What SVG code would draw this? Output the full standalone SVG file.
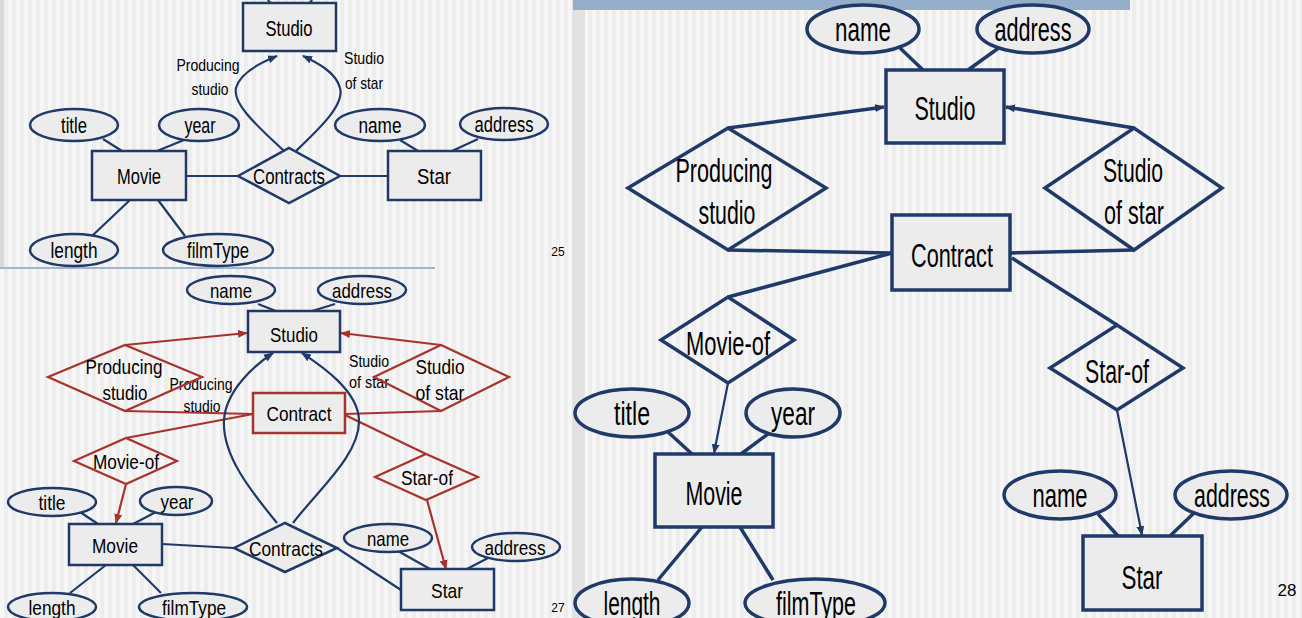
<svg xmlns="http://www.w3.org/2000/svg" width="1302" height="618" viewBox="0 0 1302 618">
<defs>
<pattern id="stripes" width="8" height="10" patternUnits="userSpaceOnUse">
<rect width="8" height="10" fill="#ededed"/>
<rect width="4" height="10" fill="#f6f6f6"/>
</pattern>
<marker id="ab" markerUnits="userSpaceOnUse" markerWidth="10" markerHeight="8" refX="9" refY="4" orient="auto"><path d="M0,0 L10,4 L0,8 z" fill="#1f3a68"/></marker>
<marker id="ar" markerUnits="userSpaceOnUse" markerWidth="10" markerHeight="8" refX="9" refY="4" orient="auto"><path d="M0,0 L10,4 L0,8 z" fill="#a8322c"/></marker>
<style>
.b{fill:none;stroke:#1f3a68;stroke-width:2.2}
.r{fill:none;stroke:#a8322c;stroke-width:2.2}
.bf{fill:#ececec;stroke:#1f3a68;stroke-width:2.5}
.rf{fill:#ececec;stroke:#a8322c;stroke-width:2.5}
.bf3{fill:#ececec;stroke:#1f3a68;stroke-width:3.5}
.b3{fill:none;stroke:#1f3a68;stroke-width:3.5}
.t{font-family:"Liberation Sans Narrow","Liberation Sans",Arial,sans-serif;fill:#000;text-anchor:middle}
.s20{font-size:22px}.s19{font-size:21px}.s16{font-size:17px}.s15{font-size:16px}.s30{font-size:34px}.s12{font-size:12px}
</style>
</defs>
<rect width="1302" height="618" fill="url(#stripes)"/>
<rect x="0" y="0" width="4" height="268" fill="#d9d9d9"/>
<rect x="572" y="0" width="13" height="618" fill="#e2e2e2"/>
<line x1="0" y1="268" x2="435" y2="268" stroke="#a3b5cc" stroke-width="2"/>
<rect x="573" y="0" width="557" height="10" fill="#95aecb"/>
<path class="b" d="M268,0 Q270,4 276,4 L304,4 Q310,4 312,0"/>

<!-- ===== Slide 25 ===== -->
<g id="s1-connectors">
<line class="b" x1="103" y1="139" x2="122" y2="151"/>
<line class="b" x1="184" y1="140" x2="157" y2="151"/>
<line class="b" x1="186" y1="176" x2="238" y2="176"/>
<line class="b" x1="340" y1="176" x2="388" y2="176"/>
<line class="b" x1="400" y1="140" x2="418" y2="151"/>
<line class="b" x1="478" y1="139" x2="452" y2="151"/>
<line class="b" x1="130" y1="200" x2="92" y2="236"/>
<line class="b" x1="158" y1="200" x2="185" y2="236"/>
<path class="b" d="M284,151 C262,130 232,105 236,88 C240,72 262,62 277,56" marker-end="url(#ab)"/>
<path class="b" d="M296,151 C318,130 345,105 340,88 C336,72 316,62 303,56" marker-end="url(#ab)"/>
<text class="t s16" x="208" y="71" textLength="63" lengthAdjust="spacingAndGlyphs">Producing</text>
<text class="t s16" x="210" y="95" textLength="37" lengthAdjust="spacingAndGlyphs">studio</text>
<text class="t s16" x="364" y="64" textLength="40" lengthAdjust="spacingAndGlyphs">Studio</text>
<text class="t s16" x="364" y="89" textLength="38" lengthAdjust="spacingAndGlyphs">of star</text>
</g>
<g id="s1-studio"><rect class="bf" x="243" y="3" width="93" height="48"/><text class="t s20" x="289" y="36" textLength="47" lengthAdjust="spacingAndGlyphs">Studio</text></g>
<g id="s1-title"><ellipse class="bf" cx="74" cy="125" rx="44" ry="16"/><text class="t s20" x="74" y="133" textLength="26" lengthAdjust="spacingAndGlyphs">title</text></g>
<g id="s1-year"><ellipse class="bf" cx="199" cy="125" rx="40" ry="16"/><text class="t s20" x="200" y="133" textLength="31" lengthAdjust="spacingAndGlyphs">year</text></g>
<g id="s1-movie"><rect class="bf" x="92" y="151" width="94" height="49"/><text class="t s20" x="139" y="184" textLength="44" lengthAdjust="spacingAndGlyphs">Movie</text></g>
<g id="s1-contracts"><polygon class="bf" points="238,176 289,148 340,176 289,203"/><text class="t s20" x="289" y="184" textLength="72" lengthAdjust="spacingAndGlyphs">Contracts</text></g>
<g id="s1-star"><rect class="bf" x="388" y="151" width="93" height="49"/><text class="t s20" x="434" y="184" textLength="34" lengthAdjust="spacingAndGlyphs">Star</text></g>
<g id="s1-name"><ellipse class="bf" cx="380" cy="125" rx="45" ry="16"/><text class="t s20" x="380" y="133" textLength="43" lengthAdjust="spacingAndGlyphs">name</text></g>
<g id="s1-address"><ellipse class="bf" cx="504" cy="124" rx="44" ry="16"/><text class="t s20" x="504" y="132" textLength="59" lengthAdjust="spacingAndGlyphs">address</text></g>
<g id="s1-length"><ellipse class="bf" cx="74" cy="250" rx="44" ry="16"/><text class="t s20" x="74" y="258" textLength="47" lengthAdjust="spacingAndGlyphs">length</text></g>
<g id="s1-filmtype"><ellipse class="bf" cx="218" cy="250" rx="55" ry="16"/><text class="t s20" x="218" y="258" textLength="62" lengthAdjust="spacingAndGlyphs">filmType</text></g>
<text class="t s12" x="558" y="256">25</text>

<!-- ===== Slide 27 ===== -->
<g id="s2-connectors">
<line class="b" x1="258" y1="304" x2="276" y2="311"/>
<line class="b" x1="335" y1="304" x2="312" y2="311"/>
<line class="r" x1="125" y1="345" x2="247" y2="333" marker-end="url(#ar)"/>
<line class="r" x1="441" y1="345" x2="341" y2="333" marker-end="url(#ar)"/>
<line class="r" x1="125" y1="411" x2="253" y2="414"/>
<line class="r" x1="441" y1="411" x2="345" y2="414"/>
<line class="r" x1="253" y1="414" x2="126" y2="438"/>
<line class="r" x1="126" y1="484" x2="116" y2="523" marker-end="url(#ar)"/>
<line class="r" x1="345" y1="415" x2="426" y2="454"/>
<line class="r" x1="427" y1="500" x2="446" y2="569" marker-end="url(#ar)"/>
<line class="b" x1="80" y1="512" x2="98" y2="524"/>
<line class="b" x1="156" y1="512" x2="133" y2="524"/>
<line class="b" x1="106" y1="565" x2="70" y2="593"/>
<line class="b" x1="133" y1="565" x2="161" y2="593"/>
<line class="b" x1="162" y1="544" x2="234" y2="548"/>
<line class="b" x1="337" y1="548" x2="401" y2="590"/>
<line class="b" x1="398" y1="551" x2="430" y2="569"/>
<line class="b" x1="488" y1="558" x2="467" y2="569"/>
<path class="b" d="M277,523 C250,490 222,455 224,420 C226,390 255,365 273,353" marker-end="url(#ab)"/>
<path class="b" d="M293,523 C318,490 360,455 359,420 C358,390 320,365 302,353" marker-end="url(#ab)"/>
<text class="t s15" x="201" y="390" textLength="63" lengthAdjust="spacingAndGlyphs">Producing</text>
<text class="t s15" x="202" y="412" textLength="37" lengthAdjust="spacingAndGlyphs">studio</text>
<text class="t s15" x="369" y="367" textLength="40" lengthAdjust="spacingAndGlyphs">Studio</text>
<text class="t s15" x="369" y="388" textLength="40" lengthAdjust="spacingAndGlyphs">of star</text>
</g>
<g id="s2-name"><ellipse class="bf" cx="231" cy="290" rx="44" ry="14"/><text class="t s19" x="231" y="298" textLength="42" lengthAdjust="spacingAndGlyphs">name</text></g>
<g id="s2-address"><ellipse class="bf" cx="362" cy="290" rx="44" ry="14"/><text class="t s19" x="362" y="298" textLength="60" lengthAdjust="spacingAndGlyphs">address</text></g>
<g id="s2-studio"><rect class="bf" x="248" y="311" width="92" height="41"/><text class="t s19" x="294" y="342" textLength="48" lengthAdjust="spacingAndGlyphs">Studio</text></g>
<g id="s2-producing"><polygon class="r" points="48,377 125,345 202,377 125,411"/><text class="t s19" x="124" y="374" textLength="77" lengthAdjust="spacingAndGlyphs">Producing</text><text class="t s19" x="125" y="400" textLength="45" lengthAdjust="spacingAndGlyphs">studio</text></g>
<g id="s2-studioofstar"><polygon class="r" points="374,377 441,345 509,377 441,411"/><text class="t s19" x="440" y="374" textLength="49" lengthAdjust="spacingAndGlyphs">Studio</text><text class="t s19" x="440" y="400" textLength="49" lengthAdjust="spacingAndGlyphs">of star</text></g>
<g id="s2-contract"><rect class="rf" x="253" y="393" width="92" height="40"/><text class="t s19" x="299" y="421" textLength="65" lengthAdjust="spacingAndGlyphs">Contract</text></g>
<g id="s2-movieof"><polygon class="r" points="74,461 126,438 177,461 126,484"/><text class="t s19" x="126" y="469" textLength="66" lengthAdjust="spacingAndGlyphs">Movie-of</text></g>
<g id="s2-starof"><polygon class="r" points="375,477 426,454 478,477 426,500"/><text class="t s19" x="427" y="485" textLength="52" lengthAdjust="spacingAndGlyphs">Star-of</text></g>
<g id="s2-title"><ellipse class="bf" cx="52" cy="502" rx="44" ry="14"/><text class="t s19" x="52" y="510" textLength="27" lengthAdjust="spacingAndGlyphs">title</text></g>
<g id="s2-year"><ellipse class="bf" cx="176" cy="501" rx="36" ry="14"/><text class="t s19" x="177" y="509" textLength="33" lengthAdjust="spacingAndGlyphs">year</text></g>
<g id="s2-movie"><rect class="bf" x="69" y="524" width="93" height="41"/><text class="t s19" x="115" y="553" textLength="46" lengthAdjust="spacingAndGlyphs">Movie</text></g>
<g id="s2-contracts"><polygon class="bf" points="234,548 285,523 337,548 285,572"/><text class="t s19" x="286" y="556" textLength="74" lengthAdjust="spacingAndGlyphs">Contracts</text></g>
<g id="s2-star"><rect class="bf" x="401" y="569" width="93" height="41"/><text class="t s19" x="447" y="598" textLength="32" lengthAdjust="spacingAndGlyphs">Star</text></g>
<g id="s2-sname"><ellipse class="bf" cx="388" cy="538" rx="44" ry="14"/><text class="t s19" x="388" y="546" textLength="42" lengthAdjust="spacingAndGlyphs">name</text></g>
<g id="s2-saddress"><ellipse class="bf" cx="516" cy="547" rx="44" ry="14"/><text class="t s19" x="515" y="555" textLength="61" lengthAdjust="spacingAndGlyphs">address</text></g>
<g id="s2-length"><ellipse class="bf" cx="52" cy="607" rx="44" ry="14"/><text class="t s19" x="52" y="615" textLength="47" lengthAdjust="spacingAndGlyphs">length</text></g>
<g id="s2-filmtype"><ellipse class="bf" cx="193" cy="607" rx="54" ry="14"/><text class="t s19" x="194" y="615" textLength="64" lengthAdjust="spacingAndGlyphs">filmType</text></g>
<text class="t s12" x="558" y="612">27</text>

<!-- ===== Slide 28 ===== -->
<g id="s3-connectors">
<line class="b3" x1="900" y1="48" x2="923" y2="70"/>
<line class="b3" x1="1000" y1="47" x2="968" y2="70"/>
<line class="b3" x1="728" y1="128" x2="884" y2="107" marker-end="url(#ab)"/>
<line class="b3" x1="1134" y1="128" x2="1006" y2="107" marker-end="url(#ab)"/>
<line class="b3" x1="728" y1="250" x2="892" y2="253"/>
<line class="b3" x1="1134" y1="250" x2="1010" y2="253"/>
<line class="b3" x1="892" y1="253" x2="728" y2="297"/>
<line class="b" x1="728" y1="383" x2="714" y2="453" stroke-width="2.5" marker-end="url(#ab)"/>
<line class="b3" x1="1012" y1="258" x2="1117" y2="325"/>
<line class="b" x1="1117" y1="410" x2="1142" y2="535" stroke-width="2.5" marker-end="url(#ab)"/>
<line class="b3" x1="668" y1="432" x2="692" y2="454"/>
<line class="b3" x1="772" y1="431" x2="741" y2="454"/>
<line class="b3" x1="702" y1="527" x2="658" y2="580"/>
<line class="b3" x1="740" y1="527" x2="773" y2="580"/>
<line class="b3" x1="1098" y1="514" x2="1118" y2="536"/>
<line class="b3" x1="1195" y1="512" x2="1170" y2="536"/>
</g>
<g id="s3-name"><ellipse class="bf3" cx="863" cy="29" rx="56" ry="24"/><text class="t s30" x="863" y="41" textLength="56" lengthAdjust="spacingAndGlyphs">name</text></g>
<g id="s3-address"><ellipse class="bf3" cx="1033" cy="29" rx="56" ry="24"/><text class="t s30" x="1033" y="41" textLength="77" lengthAdjust="spacingAndGlyphs">address</text></g>
<g id="s3-studio"><rect class="bf3" x="886" y="70" width="118" height="73"/><text class="t s30" x="945" y="120" textLength="61" lengthAdjust="spacingAndGlyphs">Studio</text></g>
<g id="s3-producing"><polygon class="b3" points="628,188 728,128 826,188 728,250"/><text class="t s30" x="724" y="182" textLength="97" lengthAdjust="spacingAndGlyphs">Producing</text><text class="t s30" x="727" y="224" textLength="57" lengthAdjust="spacingAndGlyphs">studio</text></g>
<g id="s3-studioofstar"><polygon class="b3" points="1045,188 1134,128 1222,188 1134,250"/><text class="t s30" x="1133" y="182" textLength="60" lengthAdjust="spacingAndGlyphs">Studio</text><text class="t s30" x="1134" y="224" textLength="60" lengthAdjust="spacingAndGlyphs">of star</text></g>
<g id="s3-contract"><rect class="bf3" x="892" y="215" width="118" height="75"/><text class="t s30" x="952" y="267" textLength="82" lengthAdjust="spacingAndGlyphs">Contract</text></g>
<g id="s3-movieof"><polygon class="b3" points="661,340 728,297 794,340 728,383"/><text class="t s30" x="728" y="355" textLength="84" lengthAdjust="spacingAndGlyphs">Movie-of</text></g>
<g id="s3-starof"><polygon class="b3" points="1050,368 1117,325 1183,368 1117,410"/><text class="t s30" x="1117" y="383" textLength="64" lengthAdjust="spacingAndGlyphs">Star-of</text></g>
<g id="s3-title"><ellipse class="bf3" cx="632" cy="413" rx="57" ry="24"/><text class="t s30" x="632" y="425" textLength="36" lengthAdjust="spacingAndGlyphs">title</text></g>
<g id="s3-year"><ellipse class="bf3" cx="793" cy="413" rx="47" ry="24"/><text class="t s30" x="793" y="425" textLength="44" lengthAdjust="spacingAndGlyphs">year</text></g>
<g id="s3-movie"><rect class="bf3" x="655" y="454" width="118" height="73"/><text class="t s30" x="714" y="505" textLength="57" lengthAdjust="spacingAndGlyphs">Movie</text></g>
<g id="s3-length"><ellipse class="bf3" cx="632" cy="603" rx="57" ry="24"/><text class="t s30" x="632" y="615" textLength="57" lengthAdjust="spacingAndGlyphs">length</text></g>
<g id="s3-filmtype"><ellipse class="bf3" cx="815" cy="603" rx="70" ry="24"/><text class="t s30" x="816" y="615" textLength="80" lengthAdjust="spacingAndGlyphs">filmType</text></g>
<g id="s3-sname"><ellipse class="bf3" cx="1060" cy="495" rx="56" ry="24"/><text class="t s30" x="1060" y="507" textLength="55" lengthAdjust="spacingAndGlyphs">name</text></g>
<g id="s3-saddress"><ellipse class="bf3" cx="1231" cy="495" rx="56" ry="24"/><text class="t s30" x="1232" y="507" textLength="76" lengthAdjust="spacingAndGlyphs">address</text></g>
<g id="s3-star"><rect class="bf3" x="1083" y="536" width="119" height="74"/><text class="t s30" x="1142" y="589" textLength="41" lengthAdjust="spacingAndGlyphs">Star</text></g>
<text class="t s16" x="1287" y="596">28</text>
</svg>
